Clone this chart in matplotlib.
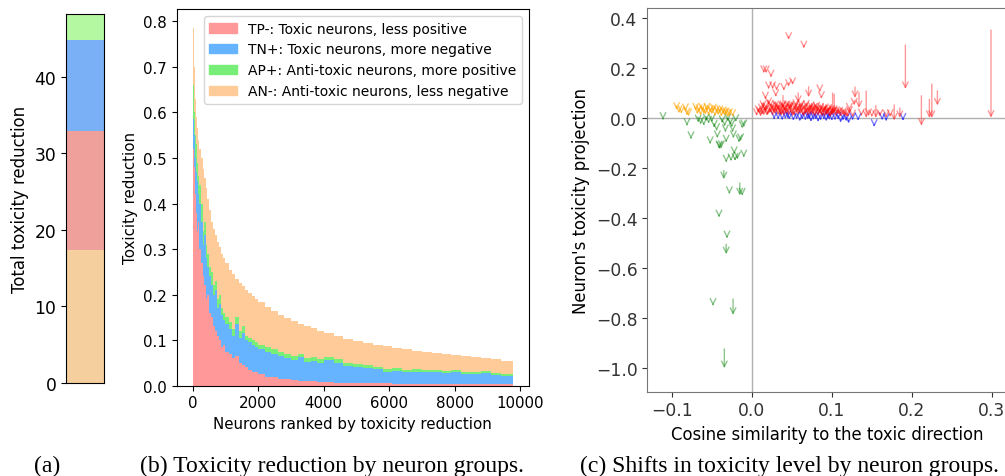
import matplotlib
matplotlib.use("Agg")
import matplotlib.pyplot as plt
from matplotlib.patches import Patch

# (a) total toxicity reduction per group
group_names = ["AN-", "TP-", "TN+", "AP+"]
group_totals = [17.3, 15.55, 11.95, 3.4]
colors_a = ["#f6cf9f", "#f0a09a", "#7ab0f5", "#b5f8a2"]

# (b) toxicity reduction per neuron, binned by rank (left edges, last = end)
rank_edges = [0, 30, 60, 90, 120, 160, 200, 250, 300, 350, 400, 450, 500, 560, 620,
              680, 740, 800, 870, 940, 1000, 1100, 1200, 1300, 1400, 1500, 1600, 1700,
              1800, 1900, 2000, 2200, 2400, 2600, 2800, 3000, 3200, 3400, 3600, 3800,
              4000, 4300, 4600, 4900, 5200, 5500, 5800, 6100, 6400, 6700, 7000, 7300,
              7600, 7900, 8200, 8500, 8800, 9100, 9400, 9780]
tp_red = [.52, .48, .42, .38, .34, .36, .30, .27, .24, .22, .19, .20, .16, .15, .13,
          .12, .11, .10, .085, .09, .075, .07, .06, .065, .05, .045, .04, .035, .03,
          .03, .025, .02, .02, .015, .015, .012, .01, .01, .01, .008, .008, .007, .006,
          .006, .005, .005, .005, .004, .004, .004, .004, .004, .003, .003, .003, .003,
          .003, .003, .003]
tn_blue = [.065, .07, .08, .09, .11, .06, .10, .09, .07, .11, .09, .06, .08, .07, .07,
           .09, .06, .08, .07, .055, .06, .055, .05, .07, .055, .07, .06, .06, .06,
           .055, .055, .055, .05, .05, .045, .045, .052, .042, .044, .042, .048, .043,
           .037, .035, .034, .031, .025, .028, .026, .027, .025, .026, .024, .026, .023,
           .022, .024, .02, .018]
ap_green = [.075, .05, .05, .06, .04, .04, .04, .04, .03, .03, .03, .03, .02, .03, .02,
            .02, .02, .02, .015, .015, .015, .015, .015, .015, .015, .015, .01, .01, .01,
            .01, .01, .01, .01, .01, .01, .008, .008, .008, .008, .008, .008, .008, .007,
            .007, .007, .006, .006, .006, .005, .005, .005, .005, .005, .005, .005, .005,
            .005, .005, .005]
an_orange = [.125, .10, .08, .06, .075, .08, .08, .10, .135, .095, .125, .12, .125, .11,
             .125, .10, .125, .105, .12, .12, .12, .115, .12, .085, .105, .088, .10, .098,
             .097, .095, .093, .087, .083, .08, .078, .077, .066, .071, .064, .063, .052,
             .051, .053, .05, .048, .048, .051, .045, .045, .041, .041, .037, .038, .034,
             .034, .033, .029, .030, .029]
colors_b = ["#ff9999", "#66b3ff", "#77ee77", "#ffcc99"]
legend_labels = ["TP-: Toxic neurons, less positive",
                 "TN+: Toxic neurons, more negative",
                 "AP+: Anti-toxic neurons, more positive",
                 "AN-: Anti-toxic neurons, less negative"]

# (c) per-neuron shift: cosine, projection before, projection after
tp_cos = [0.006, 0.010, 0.012, 0.014, 0.015, 0.017, 0.018, 0.020, 0.021, 0.022, 0.024,
          0.025, 0.026, 0.028, 0.029, 0.030, 0.031, 0.033, 0.034, 0.035, 0.036, 0.038,
          0.039, 0.040, 0.041, 0.043, 0.044, 0.045, 0.046, 0.048, 0.049, 0.050, 0.052,
          0.053, 0.054, 0.056, 0.057, 0.058, 0.060, 0.061, 0.063, 0.064, 0.066, 0.067,
          0.069, 0.070, 0.072, 0.073, 0.075, 0.076, 0.078, 0.080, 0.082, 0.083, 0.085,
          0.087, 0.089, 0.091, 0.093, 0.095, 0.097, 0.099, 0.102, 0.105, 0.108, 0.111,
          0.114, 0.118, 0.122, 0.126,
          0.008, 0.011, 0.013, 0.016, 0.019, 0.023, 0.027, 0.032, 0.037, 0.042, 0.047,
          0.051, 0.055, 0.059, 0.062, 0.065, 0.068, 0.071, 0.074, 0.077, 0.079, 0.081,
          0.084, 0.086, 0.088, 0.090, 0.092, 0.094, 0.096, 0.098, 0.100, 0.106, 0.110,
          0.116, 0.120,
          0.046, 0.065, 0.015, 0.018, 0.024, 0.021, 0.026, 0.031, 0.040, 0.046, 0.051,
          0.071, 0.085, 0.087, 0.039, 0.017, 0.030, 0.058, 0.101, 0.103, 0.122, 0.129,
          0.128, 0.134, 0.143, 0.137, 0.146, 0.155, 0.150, 0.160, 0.168, 0.173, 0.178,
          0.185, 0.192, 0.212, 0.222, 0.225, 0.232, 0.299]
tp_before = [0.020, 0.030, 0.045, 0.060, 0.025, 0.035, 0.050, 0.028, 0.070, 0.040, 0.032,
             0.055, 0.022, 0.045, 0.030, 0.065, 0.038, 0.026, 0.050, 0.040, 0.030, 0.060,
             0.035, 0.025, 0.048, 0.032, 0.055, 0.040, 0.028, 0.045, 0.062, 0.030, 0.040,
             0.025, 0.050, 0.035, 0.045, 0.028, 0.055, 0.032, 0.042, 0.025, 0.048, 0.030,
             0.038, 0.022, 0.045, 0.030, 0.040, 0.026, 0.055, 0.032, 0.042, 0.024, 0.035,
             0.028, 0.040, 0.022, 0.030, 0.036, 0.020, 0.028, 0.032, 0.022, 0.030, 0.020,
             0.026, 0.018, 0.030, 0.015,
             0.035, 0.018, 0.028, 0.042, 0.022, 0.055, 0.035, 0.048, 0.022, 0.038, 0.052,
             0.020, 0.060, 0.038, 0.052, 0.020, 0.058, 0.034, 0.050, 0.036, 0.020, 0.048,
             0.030, 0.045, 0.018, 0.034, 0.045, 0.026, 0.040, 0.015, 0.038, 0.030, 0.028,
             0.022, 0.015,
             0.325, 0.290, 0.190, 0.190, 0.172, 0.125, 0.125, 0.120, 0.120, 0.140, 0.145,
             0.125, 0.112, 0.085, 0.090, 0.085, 0.095, 0.100, 0.100, 0.095, 0.040, 0.124,
             0.070, 0.102, 0.108, 0.015, 0.015, 0.050, 0.012, 0.020, 0.010, 0.015, 0.053,
             0.040, 0.292, 0.089, 0.075, 0.136, 0.109, 0.352]
tp_after = [0.008, 0.015, 0.028, 0.040, 0.010, 0.022, 0.032, 0.012, 0.052, 0.018, 0.020,
            0.035, 0.008, 0.025, 0.015, 0.040, 0.022, 0.010, 0.030, 0.020, 0.012, 0.035,
            0.018, 0.008, 0.028, 0.015, 0.040, 0.022, 0.010, 0.030, 0.038, 0.015, 0.025,
            0.008, 0.032, 0.018, 0.028, 0.012, 0.035, 0.016, 0.025, 0.010, 0.030, 0.015,
            0.020, 0.008, 0.028, 0.012, 0.022, 0.010, 0.030, 0.015, 0.024, 0.008, 0.018,
            0.010, 0.020, 0.006, 0.012, 0.018, 0.005, 0.010, 0.015, 0.006, 0.012, 0.004,
            0.010, 0.003, 0.017, 0.003,
            0.020, 0.006, 0.012, 0.030, 0.008, 0.042, 0.020, 0.034, 0.008, 0.025, 0.036,
            0.006, 0.045, 0.022, 0.040, 0.006, 0.042, 0.020, 0.035, 0.024, 0.006, 0.034,
            0.016, 0.030, 0.005, 0.022, 0.028, 0.014, 0.025, 0.004, 0.022, 0.016, 0.014,
            0.008, 0.004,
            0.313, 0.279, 0.180, 0.180, 0.163, 0.116, 0.116, 0.110, 0.110, 0.125, 0.132,
            0.083, 0.104, 0.077, 0.040, 0.075, 0.085, 0.060, 0.010, 0.020, 0.030, 0.080,
            0.050, 0.040, 0.000, 0.008, 0.008, 0.000, 0.004, 0.005, 0.002, 0.005, -0.010,
            0.000, 0.116, -0.031, 0.000, 0.000, 0.050, 0.001]

tn_cos = [0.028, 0.033, 0.038, 0.042, 0.047, 0.052, 0.056, 0.060, 0.063, 0.067, 0.070,
          0.074, 0.077, 0.080, 0.083, 0.086, 0.090, 0.093, 0.097, 0.100, 0.104, 0.108,
          0.111, 0.114, 0.118, 0.121, 0.126, 0.133, 0.153, 0.163, 0.168, 0.189, 0.045,
          0.072, 0.095]
tn_before = [0.000, 0.002, -0.001, 0.003, 0.000, -0.002, 0.001, -0.003, 0.000, -0.002,
             0.001, -0.004, -0.001, 0.000, -0.005, -0.002, 0.000, -0.003, -0.001, -0.004,
             -0.002, 0.000, -0.006, -0.002, -0.003, -0.008, -0.002, -0.003, -0.025, -0.001,
             -0.003, -0.002, 0.004, 0.002, 0.003]
tn_after = [-0.004, -0.005, -0.008, -0.003, -0.006, -0.010, -0.004, -0.012, -0.005, -0.009,
            -0.004, -0.014, -0.007, -0.005, -0.015, -0.009, -0.004, -0.012, -0.006, -0.010,
            -0.008, -0.005, -0.018, -0.009, -0.012, -0.022, -0.008, -0.010, -0.035, -0.008,
            -0.012, -0.010, 0.000, -0.002, -0.001]

ap_cos = [-0.111, -0.081, -0.076, -0.067, -0.064, -0.060, -0.057, -0.054, -0.052, -0.050,
          -0.047, -0.044, -0.043, -0.041, -0.040, -0.038, -0.037, -0.035, -0.034, -0.033,
          -0.032, -0.032, -0.030, -0.028, -0.027, -0.025, -0.024, -0.023, -0.022, -0.021,
          -0.020, -0.016, -0.015, -0.014, -0.012, -0.012, -0.010, -0.010, -0.041, -0.031,
          -0.032, -0.0485, -0.0234, -0.0343, -0.018, -0.026]
ap_before = [-0.002, -0.025, -0.078, -0.010, -0.018, -0.024, -0.005, -0.015, -0.098, -0.008,
             -0.030, -0.045, -0.072, -0.115, -0.117, -0.114, -0.012, -0.210, -0.025, -0.050,
             -0.090, -0.170, -0.005, -0.297, -0.020, -0.030, -0.050, -0.073, -0.137, -0.160,
             -0.008, -0.090, -0.260, -0.085, -0.303, -0.034, -0.150, -0.030, -0.390, -0.474,
             -0.505, -0.745, -0.724, -0.924, -0.155, -0.165]
ap_after = [-0.007, -0.031, -0.084, -0.017, -0.025, -0.030, -0.012, -0.022, -0.104, -0.016,
            -0.038, -0.051, -0.080, -0.121, -0.124, -0.120, -0.020, -0.245, -0.033, -0.056,
            -0.097, -0.177, -0.012, -0.304, -0.028, -0.036, -0.056, -0.080, -0.144, -0.171,
            -0.015, -0.097, -0.310, -0.092, -0.310, -0.040, -0.157, -0.036, -0.397, -0.481,
            -0.545, -0.751, -0.788, -1.001, -0.165, -0.172]

an_cos = [-0.094, -0.091, -0.088, -0.083, -0.081, -0.079, -0.070, -0.068, -0.066, -0.064,
          -0.062, -0.060, -0.058, -0.056, -0.054, -0.052, -0.050, -0.048, -0.046, -0.044,
          -0.042, -0.040, -0.038, -0.036, -0.034, -0.032, -0.030, -0.028, -0.024]
an_before = [0.040, 0.028, 0.026, 0.035, 0.018, 0.015, 0.038, 0.025, 0.032, 0.020, 0.036,
             0.028, 0.024, 0.038, 0.020, 0.032, 0.026, 0.035, 0.018, 0.028, 0.022, 0.030,
             0.015, 0.025, 0.018, 0.022, 0.012, 0.016, 0.012]
an_after = [0.033, 0.020, 0.018, 0.028, 0.011, 0.008, 0.030, 0.016, 0.024, 0.010, 0.028,
            0.018, 0.014, 0.030, 0.010, 0.022, 0.016, 0.027, 0.008, 0.020, 0.012, 0.020,
            0.006, 0.016, 0.010, 0.012, 0.004, 0.008, 0.005]

fig = plt.figure(figsize=(10.05, 4.77), dpi=100)
fs_b = 10.8
fs_tick = 12.3
fs_lab = 11.9

# ---- (a)
ax_a = fig.add_axes([0.0657, 0.196, 0.0378, 0.773])
bottom = 0
for val, c in zip(group_totals, colors_a):
    ax_a.bar([0], [val], bottom=bottom, width=1.0, color=c, linewidth=0)
    bottom += val
ax_a.set_xlim(-0.5, 0.5)
ax_a.set_ylim(0, bottom)
ax_a.set_xticks([])
ax_a.set_yticks([0, 10, 20, 30, 40])
ax_a.tick_params(labelsize=fs_tick)
ax_a.set_ylabel("Total toxicity reduction", fontsize=fs_lab)

# ---- (b)
ax_b = fig.add_axes([0.1758, 0.1893, 0.3506, 0.7897])
lefts = rank_edges[:-1]
widths = [rank_edges[i + 1] - rank_edges[i] for i in range(len(lefts))]
base = [0.0] * len(lefts)
for series, c in zip([tp_red, tn_blue, ap_green, an_orange], colors_b):
    ax_b.bar(lefts, series, width=widths, bottom=base, align="edge", color=c, linewidth=0)
    base = [b + s for b, s in zip(base, series)]
ax_b.set_xlim(-489, 10269)
ax_b.set_ylim(0, 0.827)
ax_b.set_xticks([0, 2000, 4000, 6000, 8000, 10000])
ax_b.tick_params(labelsize=fs_b)
ax_b.set_xlabel("Neurons ranked by toxicity reduction", fontsize=fs_b)
ax_b.set_ylabel("Toxicity reduction", fontsize=fs_b)
handles = [Patch(color=c) for c in colors_b]
ax_b.legend(handles, legend_labels, loc="upper right", fontsize=10)

# ---- (c)
ax_c = fig.add_axes([0.644, 0.1767, 0.358, 0.8038])
ax_c.axhline(0, color="#b0b0b0", lw=1, zorder=0)
ax_c.axvline(0, color="#b0b0b0", lw=1, zorder=0)
groups_c = [(tn_cos, tn_before, tn_after, "blue", 0.5),
            (tp_cos, tp_before, tp_after, "red", 0.4),
            (ap_cos, ap_before, ap_after, "green", 0.45),
            (an_cos, an_before, an_after, "orange", 0.6)]
for xs, y0s, y1s, c, a in groups_c:
    for x, y0, y1 in zip(xs, y0s, y1s):
        ax_c.annotate("", xy=(x, y1), xytext=(x, y0),
                      arrowprops=dict(arrowstyle="->", color=c, alpha=a, lw=1,
                                      shrinkA=0, shrinkB=0))
ax_c.set_xlim(-0.1307, 0.319)
ax_c.set_ylim(-1.095, 0.439)
ax_c.set_xticks([-0.1, 0.0, 0.1, 0.2, 0.3])
ax_c.tick_params(labelsize=fs_tick, colors="#333333")
for sp in ax_c.spines.values():
    sp.set_color("#777777")
ax_c.set_xlabel("Cosine similarity to the toxic direction", fontsize=fs_lab)
ax_c.set_ylabel("Neuron's toxicity projection", fontsize=fs_lab)

# captions
cap = dict(family="Liberation Serif", fontsize=17, ha="center", va="center")
fig.text(0.047, 0.022, "(a)", **cap)
fig.text(0.330, 0.022, "(b) Toxicity reduction by neuron groups.", **cap)
fig.text(0.786, 0.022, "(c) Shifts in toxicity level by neuron groups.", **cap)

fig.savefig("out.png", dpi=100)
